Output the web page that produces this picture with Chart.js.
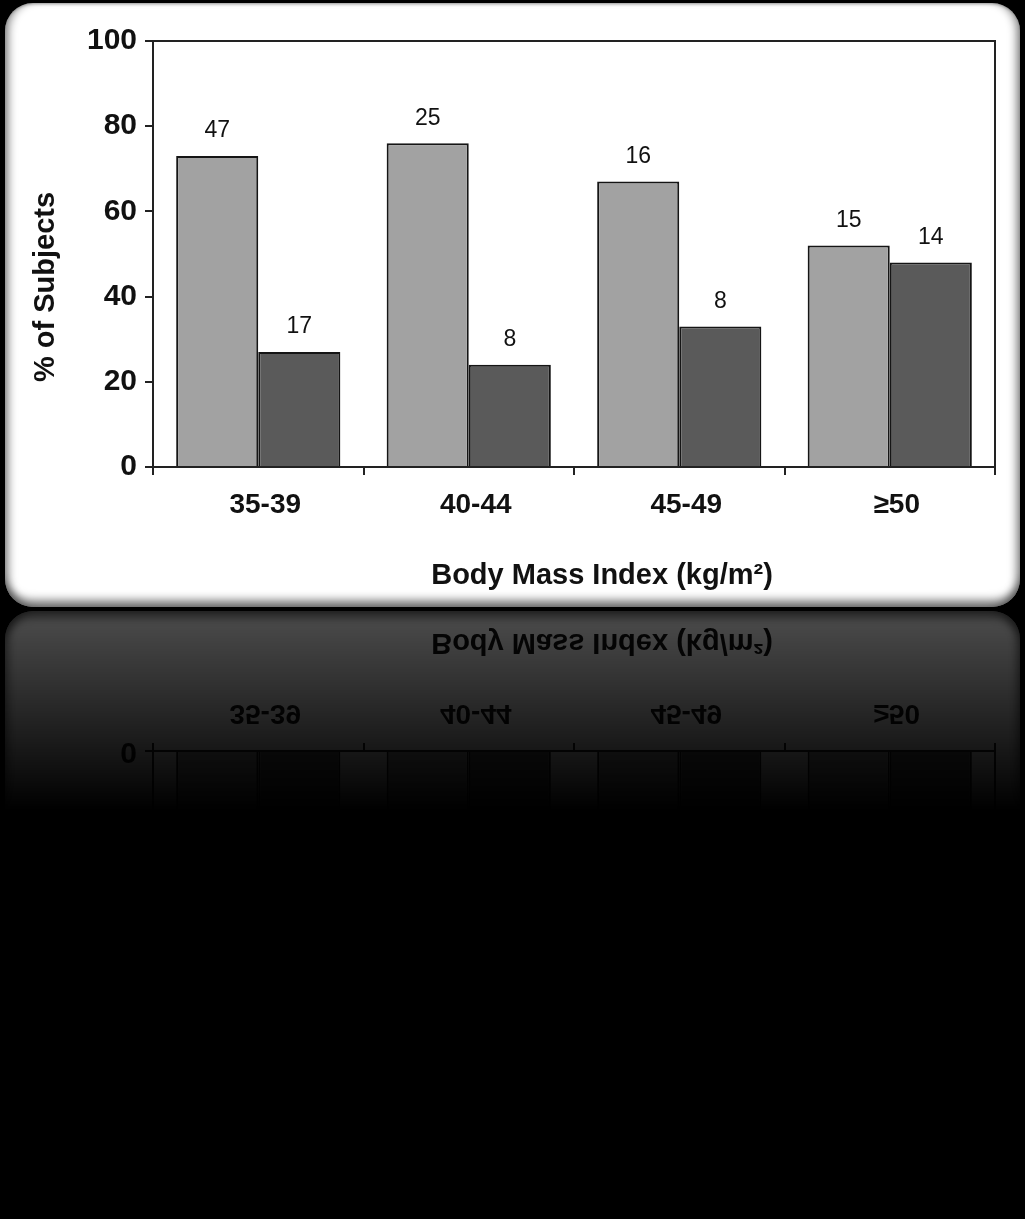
<!DOCTYPE html>
<html>
<head>
<meta charset="utf-8">
<script src="https://cdn.jsdelivr.net/npm/chart.js@4.4.1/dist/chart.umd.min.js"></script>
<style>
  html, body { margin: 0; padding: 0; background: #000; }
  body { width: 1025px; height: 1219px; overflow: hidden; position: relative; }
  #card {
    position: absolute; left: 5px; top: 3px; width: 1015px; height: 604px;
    background: #fff; border-radius: 28px;
    box-shadow: inset 0 -10px 8px -3px rgba(0,0,0,0.5), inset 8px 0 8px -4px rgba(0,0,0,0.4),
                inset -8px 0 8px -4px rgba(0,0,0,0.4), inset 0 3px 3px -2px rgba(0,0,0,0.3);
    -webkit-box-reflect: below 4px linear-gradient(to bottom, transparent 67%, rgba(255,255,255,0.3));
  }
  #myChart { position: absolute; left: 0; top: 0; }
</style>
</head>
<body>
<div id="card"><canvas id="myChart" width="1015" height="604"></canvas></div>
<script>
const categories = ['35-39', '40-44', '45-49', '≥50'];
const lightValues = [73, 76, 67, 52];
const darkValues = [27, 24, 33, 48];
const lightCounts = [47, 25, 16, 15];
const darkCounts = [17, 8, 8, 14];
const yTicks = [0, 20, 40, 60, 80, 100];

// frame on top and right of plot + axis titles + n labels above bars
const extras = {
    id: 'extras',
    afterDatasetsDraw(chart) {
        const c = chart.ctx;
        const a = chart.chartArea;
        c.save();
        c.strokeStyle = '#222';
        c.lineWidth = 2;
        c.beginPath();
        c.moveTo(a.left, a.top);
        c.lineTo(a.right, a.top);
        c.lineTo(a.right, a.bottom + 8);
        c.stroke();

        c.fillStyle = '#111';
        c.font = '23px "Liberation Sans", Arial, sans-serif';
        c.textAlign = 'center';
        c.textBaseline = 'middle';
        const counts = [lightCounts, darkCounts];
        chart.data.datasets.forEach((ds, i) => {
            chart.getDatasetMeta(i).data.forEach((bar, j) => {
                c.fillText(String(counts[i][j]), bar.x, bar.y - 25);
            });
        });

        c.font = 'bold 29px "Liberation Sans", Arial, sans-serif';
        c.fillText('Body Mass Index (kg/m²)', 597, 573);
        c.translate(41, 284);
        c.rotate(-Math.PI / 2);
        c.fillText('% of Subjects', 0, 0);
        c.restore();
    }
};

let ctx = document.getElementById('myChart').getContext('2d');
let chart = new Chart(ctx, {
    type: 'bar',
    data: {
        labels: categories,
        datasets: [{
            data: lightValues,
            backgroundColor: '#a2a2a2',
            borderColor: '#151515',
            borderWidth: 2,
            barPercentage: 1,
            categoryPercentage: 0.78
        }, {
            data: darkValues,
            backgroundColor: '#5a5a5a',
            borderColor: '#151515',
            borderWidth: 2,
            barPercentage: 1,
            categoryPercentage: 0.78
        }]
    },
    plugins: [extras],
    options: {
        responsive: false,
        animation: false,
        layout: { padding: { top: 38, right: 25, left: 0, bottom: 0 } },
        plugins: { legend: { display: false }, tooltip: { enabled: false } },
        scales: {
            x: {
                afterFit: s => { s.height = 140; },
                border: { color: '#222', width: 2 },
                grid: { offset: true, drawOnChartArea: false, tickLength: 8, color: '#222', lineWidth: 2 },
                ticks: {
                    color: '#111',
                    padding: 13,
                    labelOffset: 7,
                    font: { family: '"Liberation Sans", Arial, sans-serif', size: 28, weight: 'bold' }
                }
            },
            y: {
                min: 0,
                max: 100,
                afterFit: s => { s.width = 148; },
                afterBuildTicks: s => { s.ticks = yTicks.map(v => ({ value: v })); },
                border: { color: '#222', width: 2 },
                grid: { drawOnChartArea: false, tickLength: 8, color: '#222', lineWidth: 2 },
                ticks: {
                    color: '#111',
                    padding: 8,
                    font: { family: '"Liberation Sans", Arial, sans-serif', size: 30, weight: 'bold' }
                }
            }
        }
    }
});
</script>
</body>
</html>
